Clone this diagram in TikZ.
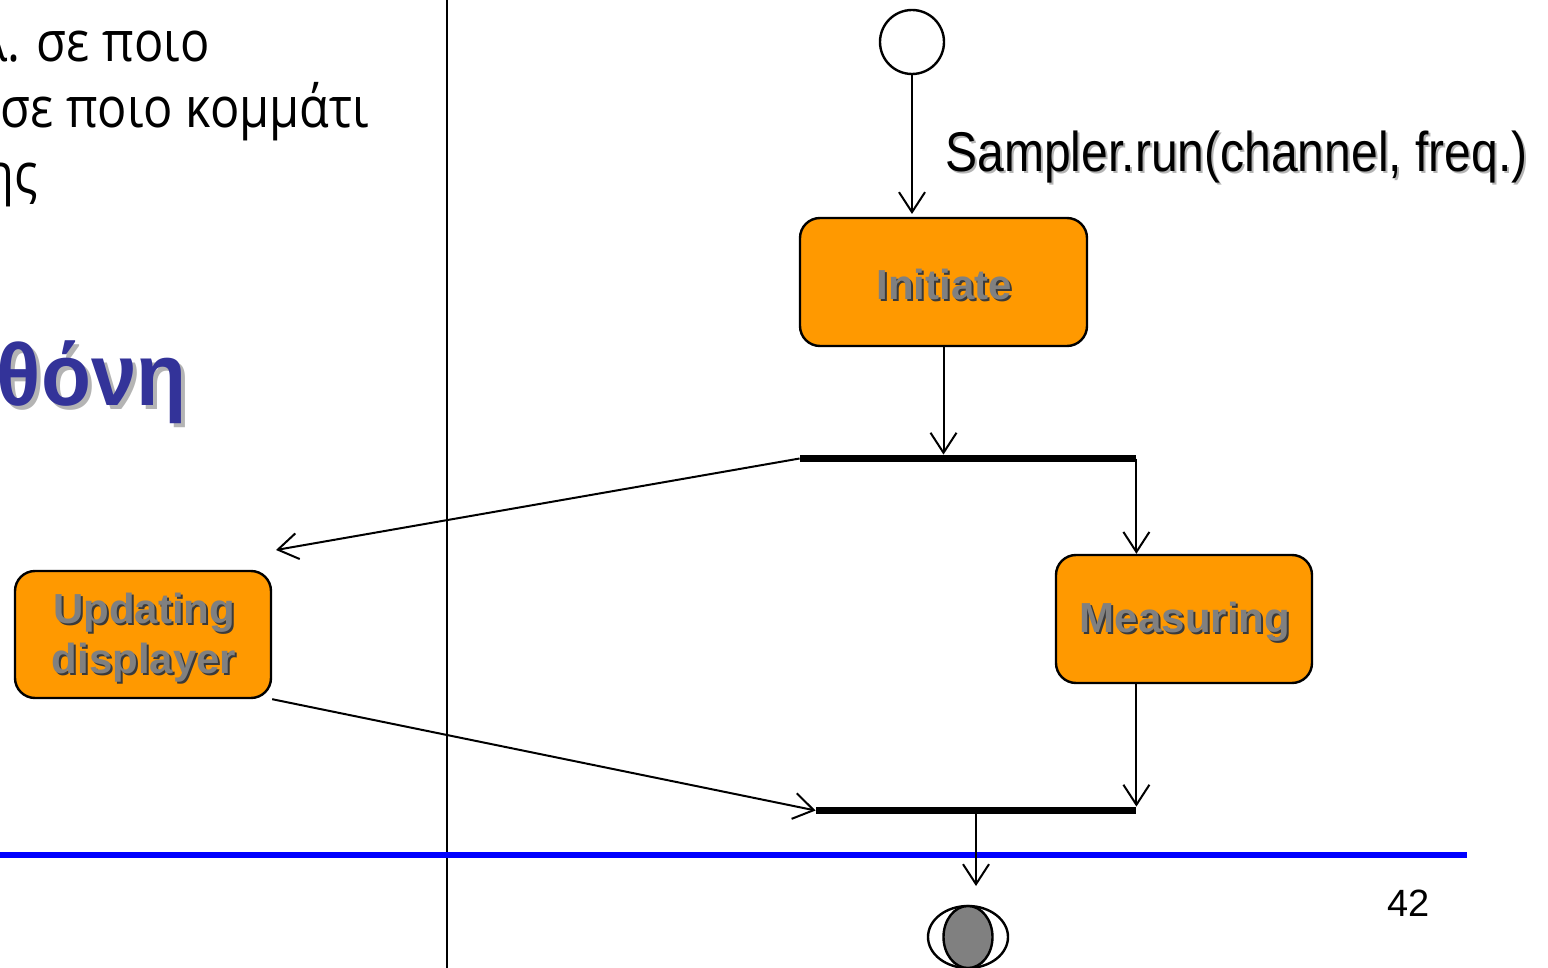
\documentclass[tikz,border=0pt]{standalone}
\usepackage{fontspec}
\setmainfont{Liberation Sans}
\newfontfamily\osans{Open Sans}
\usetikzlibrary{arrows.meta,shapes.geometric}
\definecolor{orng}{HTML}{FF9900}
\definecolor{ttl}{HTML}{333399}
\definecolor{txtgray}{HTML}{808080}
\definecolor{shdark}{HTML}{3A3A3A}
\definecolor{shlight}{HTML}{B4B4B4}
\tikzset{
  box/.style={draw=black, line width=1.2pt, fill=orng, rounded corners=10pt, inner sep=0},
  flow/.style={line width=1pt, -{Straight Barb[length=10pt, width=13pt, line width=1pt]}},
  bar/.style={fill=black, inner sep=0, minimum height=3.5pt},
  boxtxt/.style={font=\fontsize{21pt}{25pt}\selectfont\bfseries, text=txtgray, align=center, inner sep=0},
  boxsh/.style={boxtxt, text=shdark},
  greek/.style={font=\osans\fontsize{28pt}{33pt}\selectfont, inner sep=0},
  titlefont/.style={font=\fontsize{44pt}{50pt}\selectfont\bfseries, anchor=base east, inner sep=0},
}
\begin{document}
\begin{tikzpicture}[x=0.5pt,y=-0.5pt]
\useasboundingbox (0,0) rectangle (1548,968);
\clip (0,0) rectangle (1548,968);
% left text
\node[greek, anchor=base east] (t1) at (210,62) {\scalebox{0.87}[1]{λ. σε ποιο}};
\node[greek, anchor=base west] (t2) at (0,128) {\scalebox{0.87}[1]{σε ποιο κομμάτι}};
\node[greek, anchor=base east] (t3) at (38,194) {\scalebox{0.87}[1]{ης}};
% title
\node[titlefont, text=shlight] (titsh) at (191,409) {\scalebox{0.93}[1]{θόνη}};
\node[titlefont, text=ttl] (tit) at (187,405) {\scalebox{0.93}[1]{θόνη}};
% separators
\draw[line width=1pt] (447,0) -- (447,968);
\draw[line width=2.7pt, blue] (0,855) -- (1467,855);
% start
\node[draw, circle, line width=1.2pt, minimum size=32pt, inner sep=0] (start) at (912,42) {};
\coordinate (initin) at (912,214);
\draw[flow] (start.south) -- (initin);
\node[font=\fontsize{28pt}{32pt}\selectfont, text=shlight, anchor=base west, inner sep=0] (lblsh) at (947,174) {\scalebox{0.858}[1]{Sampler.run(channel, freq.)}};
\node[font=\fontsize{28pt}{32pt}\selectfont, anchor=base west, inner sep=0] (lbl) at (945,172) {\scalebox{0.858}[1]{Sampler.run(channel, freq.)}};
% initiate
\node[box, minimum width=143.5pt, minimum height=64pt] (init) at (943.5,282) {};
\node[boxsh] (initsh) at (946,286) {Initiate};
\node[boxtxt] (inittx) at (944,284) {Initiate};
% fork bar
\node[bar, minimum width=168pt] (fork) at (968,458.5) {};
\draw[flow] (init.south) -- (init.south |- fork.north);
% measuring
\node[box, minimum width=128pt, minimum height=64pt] (meas) at (1184,619) {};
\node[boxsh] (meassh) at (1187,624) {Measuring};
\node[boxtxt] (meastx) at (1185,622) {Measuring};
\draw[flow] (fork.east) -- (fork.east |- meas.north);
% updating
\node[box, minimum width=128pt, minimum height=63.5pt] (upd) at (143,634.5) {};
\node[boxsh] (updsh) at (146,640) {Updating\\displayer};
\node[boxtxt] (updtx) at (144,638) {Updating\\displayer};
\coordinate (updin) at (276,550);
\draw[flow] (fork.west) -- (updin);
% join bar
\node[bar, minimum width=160pt] (join) at (976,810.5) {};
\draw[flow] (upd.south east) -- (join.west);
\draw[flow] (join.east |- meas.south) -- (join.north east);
\coordinate (jout) at (976,812);
\coordinate (endin) at (976,886);
\draw[flow] (jout) -- (endin);
% end
\node[draw, ellipse, line width=1.2pt, minimum width=40pt, minimum height=31pt, inner sep=0] (endo) at (968,937) {};
\node[draw, ellipse, line width=1.2pt, fill=txtgray, minimum width=24.5pt, minimum height=31pt, inner sep=0] (endi) at (968,937) {};
% page number
\node[font=\fontsize{19pt}{22pt}\selectfont, anchor=base west, inner sep=0] (pg) at (1387,916) {42};
\end{tikzpicture}
\end{document}
